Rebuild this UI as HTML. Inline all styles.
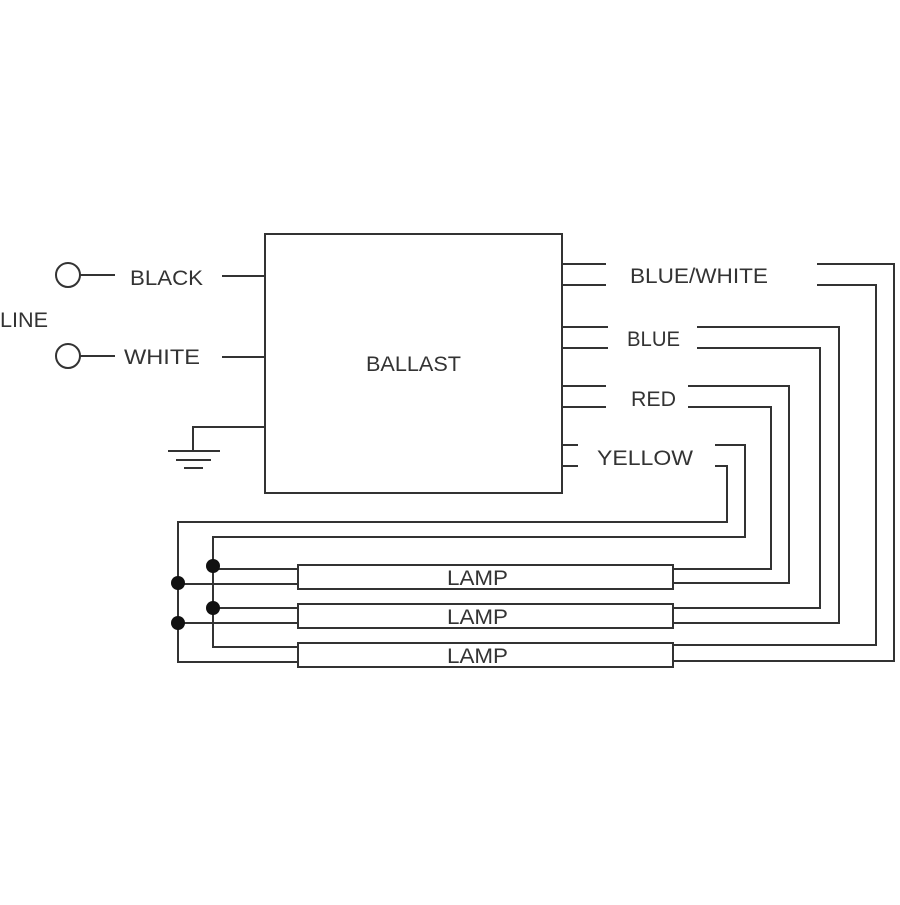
<!DOCTYPE html>
<html><head><style>html,body{margin:0;padding:0;background:#fff;}</style></head>
<body>
<svg width="900" height="900" viewBox="0 0 900 900" xmlns="http://www.w3.org/2000/svg">
<rect width="900" height="900" fill="#fff"/>
<g stroke="#333" stroke-width="2" fill="none">
<rect x="265" y="234" width="297" height="259"/>
<circle cx="68" cy="275" r="12"/>
<circle cx="68" cy="356" r="12"/>
<path d="M80 275H115M80 356H115M222 276H265M222 357H265"/>
<path d="M265 427H193V450M168 451H220M176 460H211M184 468H203"/>
<!-- stubs -->
<path d="M562 264H606M562 285H606M562 327H608M562 348H608M562 386H606M562 407H606M562 445H578M562 466H578"/>
<!-- right routes -->
<path d="M817 264H894V661H673"/>
<path d="M817 285H876V645H673"/>
<path d="M697 327H839V623H673"/>
<path d="M697 348H820V608H673"/>
<path d="M688 386H789V583H673"/>
<path d="M688 407H771V569H673"/>
<path d="M715 445H745V537H213V647H298"/>
<path d="M715 466H727V522H178V662H298"/>
<path d="M213 569H298M178 584H298M213 608H298M178 623H298"/>
<rect x="298" y="565" width="375" height="24"/>
<rect x="298" y="604" width="375" height="24"/>
<rect x="298" y="643" width="375" height="24"/>
</g>
<g fill="#111">
<circle cx="213" cy="566" r="7"/>
<circle cx="178" cy="583" r="7"/>
<circle cx="213" cy="608" r="7"/>
<circle cx="178" cy="623" r="7"/>
</g>
<g font-family="Liberation Sans, sans-serif" font-size="21" fill="#333">
<text x="130" y="285" textLength="73" lengthAdjust="spacingAndGlyphs">BLACK</text>
<text x="124" y="364" textLength="76" lengthAdjust="spacingAndGlyphs">WHITE</text>
<text x="0" y="327" textLength="48" lengthAdjust="spacingAndGlyphs">LINE</text>
<text x="366" y="371" textLength="95" lengthAdjust="spacingAndGlyphs">BALLAST</text>
<text x="630" y="283" textLength="138" lengthAdjust="spacingAndGlyphs">BLUE/WHITE</text>
<text x="627" y="346" textLength="53" lengthAdjust="spacingAndGlyphs">BLUE</text>
<text x="631" y="406" textLength="45" lengthAdjust="spacingAndGlyphs">RED</text>
<text x="597" y="465" textLength="96" lengthAdjust="spacingAndGlyphs">YELLOW</text>
<text x="447" y="585" textLength="61" lengthAdjust="spacingAndGlyphs">LAMP</text>
<text x="447" y="624" textLength="61" lengthAdjust="spacingAndGlyphs">LAMP</text>
<text x="447" y="663" textLength="61" lengthAdjust="spacingAndGlyphs">LAMP</text>
</g>
</svg>
</body></html>
